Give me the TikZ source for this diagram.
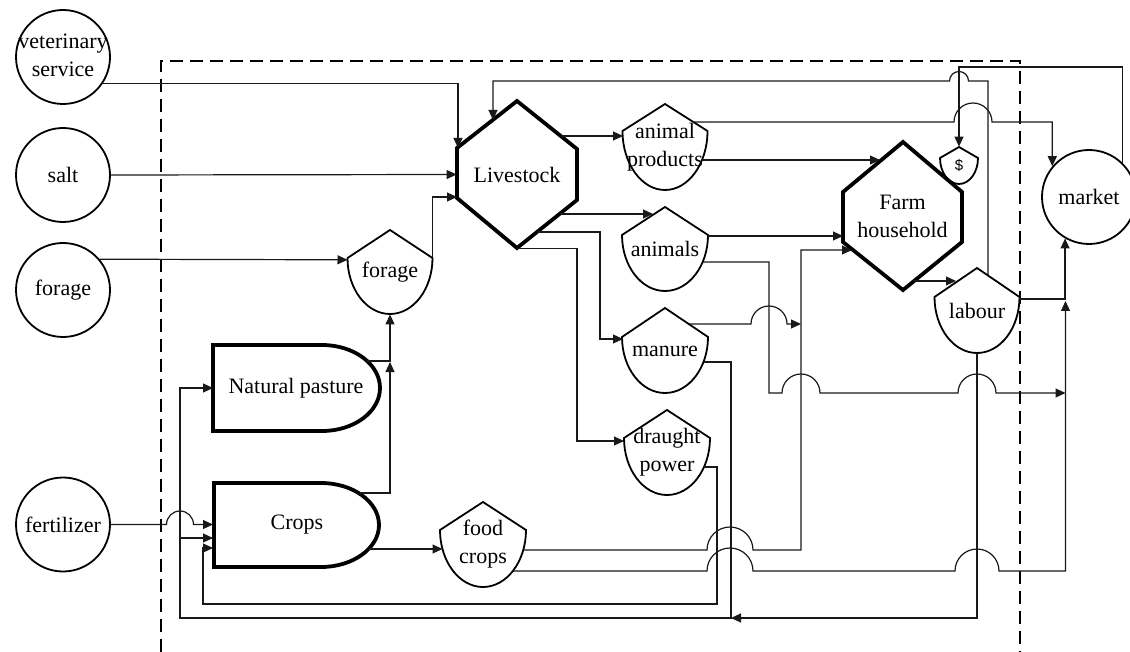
\documentclass[tikz,border=0pt]{standalone}
\usepackage{fontspec}
\setmainfont{Liberation Serif}
\setsansfont{Liberation Sans}
\usetikzlibrary{arrows.meta}
\newcommand\shielddraw[5]{\draw[shieldline] (#1,#2) -- ({#1+#3},{#2+#4}) arc[start angle=0,end angle=180,x radius=#3,y radius={#5-#4}] -- cycle;}
\begin{document}
\begin{tikzpicture}[x=0.5pt,y=-0.5pt,
  conn/.style={line width=0.6pt, draw=black!90},
  arr/.style={conn,-{Triangle[length=5pt,width=4.5pt]}},
  thickshape/.style={line width=1.9pt, line join=miter},
  shieldline/.style={line width=0.9pt, line join=miter},
  lbl/.style={font=\fontsize{11}{14}\selectfont, align=center, inner sep=0pt},
  circ/.style={circle, draw, line width=0.9pt, minimum size=47pt, inner sep=0pt},
  box/.style={lbl, rectangle, draw=none}
]
\useasboundingbox (0,0) rectangle (1130,652);

% system boundary
\draw[line width=1pt, dash pattern=on 6.5pt off 3.5pt] (161,652) -- (161,61) -- (1020,61) -- (1020,652);

% outside inputs / market
\node[circ] (vet) at (63,57) {};
\node[lbl] at (63,55) {veterinary\\service};
\node[circ] (salt) at (63,175) {};
\node[lbl] at (salt) {salt};
\node[circ] (forage) at (63,290) {};
\node[lbl] at (forage) {forage};
\node[circ] (fert) at (63,524.5) {};
\node[lbl] at (fert) {fertilizer};
\node[circ] (market) at (1089,197) {};
\node[lbl] at (market) {market};

% hexagons
\draw[thickshape] (517,101) -- (577,149) -- (577,200) -- (517,248) -- (457,198) -- (457,148) -- cycle;
\node[box, minimum width=60pt, minimum height=73.5pt] (ls) at (517,174.5) {Livestock};
\draw[thickshape] (903,142) -- (962,192) -- (962,242) -- (903,290) -- (843,242) -- (843,192) -- cycle;
\node[box, minimum width=59.5pt, minimum height=74pt] (fh) at (902.5,216) {Farm\\household};

% delay shapes
\draw[thickshape] (213,345) -- (322,345) arc[start angle=-90,end angle=90,x radius=58,y radius=43] -- (213,431) -- cycle;
\node[box] (np) at (296,388) {Natural pasture};
\draw[thickshape] (214,483) -- (321,483) arc[start angle=-90,end angle=90,x radius=58,y radius=42] -- (214,567) -- cycle;
\node[box] (crops) at (297,525) {Crops};

% shields
\shielddraw{390}{230}{42.5}{28}{84}
\node[box, minimum width=42.5pt, minimum height=42pt] (fs) at (390,272) {forage};
\shielddraw{665}{104}{42.5}{27}{86}
\node[box, minimum width=42.5pt, minimum height=43pt] (ap) at (665,147) {animal\\products};
\shielddraw{665}{207}{43}{28}{84}
\node[box, minimum width=43pt, minimum height=42pt] (an) at (665,249) {animals};
\shielddraw{665}{308}{43}{29}{85}
\node[box, minimum width=43pt, minimum height=42.5pt] (mn) at (665,351) {manure};
\shielddraw{667}{410}{43}{28}{85}
\node[box, minimum width=43pt, minimum height=42.5pt] (dp) at (667,452.5) {draught\\power};
\shielddraw{483}{502}{43}{28}{85}
\node[box, minimum width=43pt, minimum height=42.5pt] (fc) at (483,544.5) {food\\crops};
\shielddraw{977}{268}{42.5}{29}{85}
\node[box, minimum width=42.5pt, minimum height=42.5pt] (lb) at (977,310.5) {labour};
\shielddraw{959}{147}{19}{11}{37}
\node[box, font=\sffamily\fontsize{7.5}{9}\selectfont, minimum width=19pt, minimum height=18.5pt] (dl) at (959,165.5) {\$};

% connectors: inputs
\draw[arr] (vet.-34) -| (458,148);
\draw[arr] (salt.east) -- (ls.west);
\draw[arr] (forage.40) -- (347.5,259.8);
\draw[arr] (432.5,258) |- (457,197);
\draw[arr] (367,361) -| (fs.south);
\draw[arr] (360,493) -| (390,362);
\draw[arr] (369,549) -- (442.5,549);
\draw[arr] (fert.east) -- (166.5,524.5) arc[start angle=180,end angle=360,radius=13.5] -- (213,524.5);

% livestock outputs
\draw[arr] (561,136) -- (623,136);
\draw[arr] (559.5,214) -- (653,214);
\draw[arr] (537,232) -| (600,339) -- (623,339);
\draw[arr] (ls.south) -| (577,441) -- (624,441);

% products
\draw[arr] (702,160) -- (880,160);
\draw[arr] (693,122) -- (954,122) arc[start angle=180,end angle=360,radius=19] -| (market.140);
\draw[arr] (market.45) |- (959,67) -- (dl.north);
\draw[arr] (988,275) -- (988,81) -- (968.5,81) arc[start angle=0,end angle=-180,radius=9.5] -- (493,81) -- (493,120);
\draw[arr] (708,236) -- (843,236);
\draw[arr] (703,262) -| (769,393) -- (782,393) arc[start angle=180,end angle=360,radius=19] -- (958,393) arc[start angle=180,end angle=360,radius=19] -- (1065.5,393);
\draw[arr] (689,324) -- (751,324) arc[start angle=180,end angle=360,radius=18] -- (801,324);
\draw[arr] (523,550) -- (707,550) arc[start angle=180,end angle=360,radius=23] -- (801,550) -- (801,250) -- (852,250);
\draw[arr] (513,571) -- (707,571) arc[start angle=180,end angle=360,radius=23] -- (955,571) arc[start angle=180,end angle=360,radius=22] -- (1065.5,571) -- (1065.5,301);
\draw[arr] (1019,299) -| (market.-120);
\draw[arr] (914,281) -- (956,281);
\draw[arr] (lb.south) -- (977,618) -- (731,618);

% returns to crops / pasture
\draw[arr] (704,362) -| (731,618) -| (180,388) -- (213,388);
\draw[arr] (180,538) -- (213,538);
\draw[arr] (704,467) -| (717,604) -| (203,548) -- (213,548);
\end{tikzpicture}
\end{document}
